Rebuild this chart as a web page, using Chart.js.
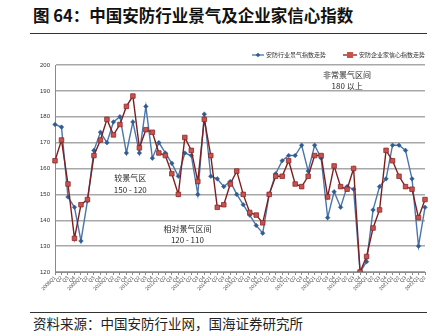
<!DOCTYPE html>
<html lang="zh">
<head>
  <meta charset="utf-8">
  <title>中国安防行业景气及企业家信心指数</title>
  <script src="https://cdn.jsdelivr.net/npm/chart.js"></script>
  <style>
    body { margin: 0; background: #fff; }
    #wrap { position: relative; width: 438px; height: 332px; overflow: hidden; font-family: "Noto Sans CJK SC", sans-serif; }
    #titulo { position: absolute; left: 33px; top: 3px; font-size: 16.5px; font-weight: bold; color: #111; white-space: nowrap; }
    .linea { position: absolute; left: 30px; width: 397px; height: 0; border-top: 1.3px solid #333; }
    #fuente { position: absolute; left: 33px; top: 313px; font-size: 13.5px; color: #222; white-space: nowrap; }
    #MiGrafica { position: absolute; left: 0; top: 40px; }
  </style>
</head>
<body>
  <div id="wrap">
    <div id="titulo">图 64：中国安防行业景气及企业家信心指数</div>
    <div class="linea" style="top:33px"></div>
    <canvas id="MiGrafica" width="438" height="270"></canvas>
    <div class="linea" style="top:312px"></div>
    <div id="fuente">资料来源：中国安防行业网，国海证券研究所</div>
  </div>
<script>
  // quarterly, 2008Q1 - 2022Q2
  const labels = [
    '2008Q1','Q2','Q3','Q4','2009Q1','Q2','Q3','Q4','2010Q1','Q2','Q3','Q4',
    '2011Q1','Q2','Q3','Q4','2012Q1','Q2','Q3','Q4','2013Q1','Q2','Q3','Q4',
    '2014Q1','Q2','Q3','Q4','2015Q1','Q2','Q3','Q4','2016Q1','Q2','Q3','Q4',
    '2017Q1','Q2','Q3','Q4','2018Q1','Q2','Q3','Q4','2019Q1','Q2','Q3','Q4',
    '2020Q1','Q2','Q3','Q4','2021Q1','Q2','Q3','Q4','2022Q1','Q2'
  ];

  // 安防行业景气指数
  const jingqi = [
    177, 176, 149, 145, 132, 147.5, 167, 174, 170, 178, 180, 166,
    178, 166, 184, 164, 170, 166, 162, 157, 166, 165, 150, 181,
    157, 156, 153, 155, 150, 146, 142, 138, 135, 150, 158, 163,
    165, 165, 169, 159, 169, 164, 141, 151, 145, 153, 152, 120,
    124, 144, 153, 156, 169, 169, 167, 156, 130, 145
  ];

  // 安防企业家信心指数
  const xinxin = [
    163, 171, 154, 133, 146, 148, 165, 171, 179, 173, 177, 184,
    188, 168, 175, 174, 166, 165, 158, 150, 172, 167, 155, 179,
    165, 145, 146, 154, 159, 150, 143, 142, 139, 150, 157, 157,
    163, 154, 153, 157, 165, 165, 149, 161, 153, 152, 160, 120,
    126, 137, 144, 167, 163, 157, 153, 152, 141, 148
  ];

  const yTicks = [120, 130, 140, 150, 160, 170, 180, 190, 200];

  const azul = '#4a76ab';
  const rojo = '#7e1f1f';

  const data = {
    labels: labels,
    datasets: [{
      label: '安防企业家信心指数走势',
      data: xinxin,
      borderColor: rojo,
      borderWidth: 1.4,
      pointStyle: 'rect',
      pointRadius: 3.2,
      pointBackgroundColor: '#c9524e',
      pointBorderColor: '#8c2b2b',
      pointBorderWidth: 0.8,
      tension: 0
    }, {
      label: '安防行业景气指数走势',
      data: jingqi,
      borderColor: azul,
      borderWidth: 1.4,
      pointStyle: 'rectRot',
      pointRadius: 2.3,
      pointBackgroundColor: '#2f5d93',
      pointBorderColor: '#2f5d93',
      pointBorderWidth: 0.5,
      tension: 0
    }]
  };

  // legend + zone notes drawn on the canvas
  const notas = {
    id: 'notas',
    afterDraw(chart) {
      const ctx = chart.ctx;
      const x = chart.scales.x;
      const y = chart.scales.y;
      ctx.save();

      // legend
      ctx.font = '6px "Noto Sans CJK SC"';
      ctx.textBaseline = 'middle';
      ctx.fillStyle = '#333';
      ctx.lineWidth = 1.3;
      const ly = 15;
      ctx.strokeStyle = azul;
      ctx.beginPath(); ctx.moveTo(252, ly); ctx.lineTo(264, ly); ctx.stroke();
      ctx.fillStyle = '#2f5d93';
      ctx.beginPath(); ctx.moveTo(258, ly - 2.3); ctx.lineTo(260.3, ly); ctx.lineTo(258, ly + 2.3); ctx.lineTo(255.7, ly); ctx.closePath(); ctx.fill();
      ctx.fillStyle = '#333';
      ctx.fillText('安防行业景气指数走势', 266, ly);
      ctx.strokeStyle = rojo;
      ctx.beginPath(); ctx.moveTo(343, ly); ctx.lineTo(357, ly); ctx.stroke();
      ctx.fillStyle = '#c9524e';
      ctx.fillRect(347, ly - 3, 6, 6);
      ctx.fillStyle = '#333';
      ctx.fillText('安防企业家信心指数走势', 359, ly);

      // zones
      ctx.textAlign = 'center';
      ctx.fillStyle = '#2a2a2a';
      ctx.font = '8px "Noto Sans CJK SC"';
      ctx.fillText('非常景气区间', x.getPixelForValue(45), y.getPixelForValue(196));
      ctx.fillText('180 以上', x.getPixelForValue(45), y.getPixelForValue(192));
      ctx.fillText('较景气区', x.getPixelForValue(11.6), y.getPixelForValue(156.3));
      ctx.fillText('150 - 120', x.getPixelForValue(11.6), y.getPixelForValue(151.8));
      ctx.fillText('相对景气区间', x.getPixelForValue(20.4), y.getPixelForValue(136.6));
      ctx.fillText('120 - 110', x.getPixelForValue(20.4), y.getPixelForValue(132.2));
      ctx.restore();
    }
  };

  const config = {
    type: 'line',
    data: data,
    options: {
      responsive: false,
      animation: false,
      devicePixelRatio: 1,
      layout: { padding: { top: 25, right: 13, left: 0, bottom: 0 } },
      plugins: { legend: { display: false }, tooltip: { enabled: false } },
      scales: {
        x: {
          afterFit(scale) { scale.height = 38; },
          grid: { display: true, drawOnChartArea: false, drawTicks: true, tickLength: 3, color: '#8a8a8a' },
          border: { display: true, color: '#8a8a8a' },
          ticks: {
            autoSkip: false,
            maxRotation: 45,
            minRotation: 45,
            padding: 0,
            color: '#444',
            font: { size: 5, family: 'Liberation Sans' }
          }
        },
        y: {
          min: 120,
          max: 200,
          afterFit(scale) { scale.width = 55; },
          afterBuildTicks(scale) { scale.ticks = yTicks.map(v => ({ value: v })); },
          grid: { color: '#a8a8a8', lineWidth: 1.5, drawTicks: false },
          border: { display: true, color: '#8a8a8a' },
          ticks: {
            padding: 5,
            color: '#333',
            font: { size: 6, family: 'Liberation Sans' }
          }
        }
      }
    },
    plugins: [notas]
  };

  const myChart = new Chart(document.getElementById('MiGrafica'), config);
</script>
</body>
</html>
